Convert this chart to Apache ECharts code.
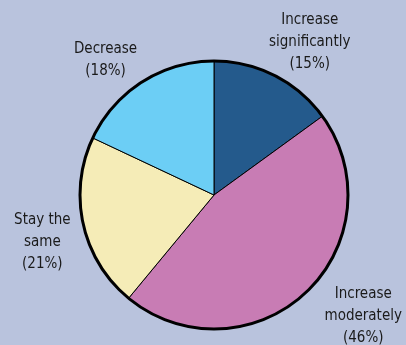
<!DOCTYPE html>
<html>
<head>
<meta charset="utf-8">
<script src="https://cdn.jsdelivr.net/npm/echarts@6/dist/echarts.min.js"></script>
<style>
html,body{margin:0;padding:0;background:#b9c3dd;}
#c{width:406px;height:345px;}
</style>
</head>
<body>
<div id="c"></div>
<script>
const categories = ['Increase\nsignificantly', 'Increase\nmoderately', 'Stay the\nsame', 'Decrease'];
const values = [15, 46, 21, 18];
const colors = ['#245a8c', '#c87cb4', '#f5ecb7', '#6ccef5'];
const labelNudge = [[14, 7], [26, -10], [4, 8], [-12, 17]];

const chart = echarts.init(document.getElementById('c'), null, {renderer: 'canvas'});
const data = categories.map((name, i) => ({
  name: name,
  value: values[i],
  itemStyle: {color: colors[i]}
}));
chart.setOption({
  backgroundColor: '#b9c3dd',
  animation: false,
  series: [
    {
      type: 'pie',
      center: [214, 195],
      radius: 134,
      startAngle: 90,
      clockwise: true,
      avoidLabelOverlap: false,
      itemStyle: {borderColor: '#000', borderWidth: 1},
      label: {
        show: true,
        position: 'outside',
        formatter: p => p.name + '\n(' + p.value + '%)',
        fontFamily: '"DejaVu Sans Condensed", "Open Sans", sans-serif',
        fontSize: 15,
        lineHeight: 22,
        color: '#1a1a1a',
        distanceToLabelLine: 0
      },
      labelLine: {show: false, length: 46, length2: 0},
      labelLayout: function (params) {
        const n = labelNudge[params.dataIndex];
        return {align: 'center', verticalAlign: 'middle', dx: n[0], dy: n[1]};
      },
      emphasis: {disabled: true},
      data: data
    },
    {
      type: 'pie',
      center: [214, 195],
      radius: 134,
      silent: true,
      label: {show: false},
      labelLine: {show: false},
      itemStyle: {color: 'rgba(0,0,0,0)', borderColor: '#000', borderWidth: 3},
      emphasis: {disabled: true},
      data: [{value: 1, name: 'outline'}]
    }
  ]
});
</script>
</body>
</html>
